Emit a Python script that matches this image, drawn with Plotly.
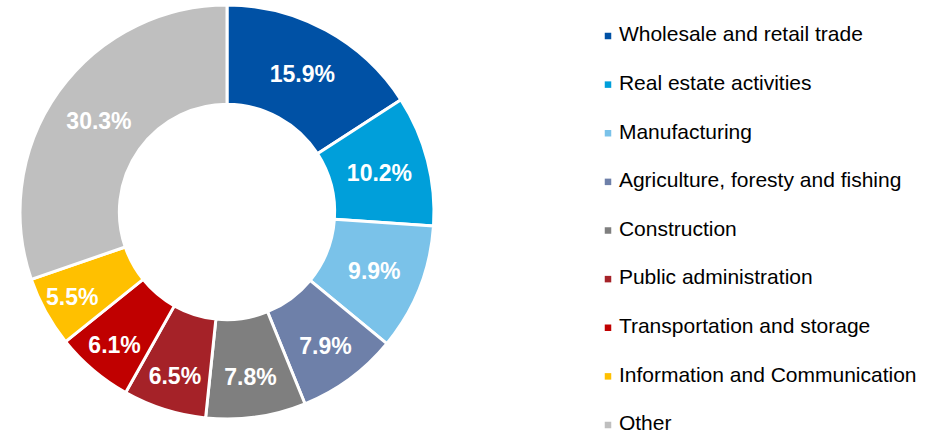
import plotly.graph_objects as go

categories = ["Wholesale and retail trade", "Real estate activities", "Manufacturing",
              "Agriculture, foresty and fishing", "Construction", "Public administration",
              "Transportation and storage", "Information and Communication", "Other"]
shares = [15.9, 10.2, 9.9, 7.9, 7.8, 6.5, 6.1, 5.5, 30.3]
colors = ["#0051A5", "#009FDA", "#7AC2E9", "#6E80A9", "#7F7F7F",
          "#A52228", "#C00000", "#FFC000", "#BFBFBF"]

W, H = 944, 437
fig = go.Figure()
fig.add_trace(go.Pie(
    labels=categories, values=shares,
    text=[f"<b>{v}%</b>" for v in shares], textinfo="text",
    textposition="inside", insidetextorientation="horizontal",
    textfont=dict(family="Liberation Sans, Arial", size=23, color="white"),
    marker=dict(colors=colors, line=dict(color="white", width=3)),
    hole=0.52, sort=False, direction="clockwise", rotation=0,
    domain=dict(x=[20 / W, 434 / W], y=[(H - 419) / H, (H - 5) / H]),
    showlegend=False, hoverinfo="label+text",
))

# Legend drawn as a marker+text column on a hidden category axis
fig.add_trace(go.Scatter(
    x=[0.5] * len(categories), y=categories,
    mode="markers+text", text=["\u00a0" + c for c in categories],
    textposition="middle right",
    textfont=dict(family="Liberation Sans, Arial", size=21, color="black"),
    marker=dict(symbol="square", size=6.5, color=colors),
    hoverinfo="skip", showlegend=False, cliponaxis=False,
))

# map category index 0 -> 36px from top, 8 -> 425px from top
step = (425 - 36) / 8
fig.update_layout(
    width=W, height=H,
    margin=dict(l=0, r=0, t=0, b=0),
    paper_bgcolor="white", plot_bgcolor="white",
    showlegend=False,
    xaxis=dict(visible=False, domain=[608 / W - 0.01, 608 / W + 0.01], range=[0, 1],
               fixedrange=True),
    yaxis=dict(visible=False, type="category", domain=[0, 1],
               range=[(H - 36) / step, -36 / step], fixedrange=True),
    font=dict(family="Liberation Sans, Arial"),
)
fig.write_html("out.html", config={"displayModeBar": False},
               post_script="document.body.style.margin='0';")
